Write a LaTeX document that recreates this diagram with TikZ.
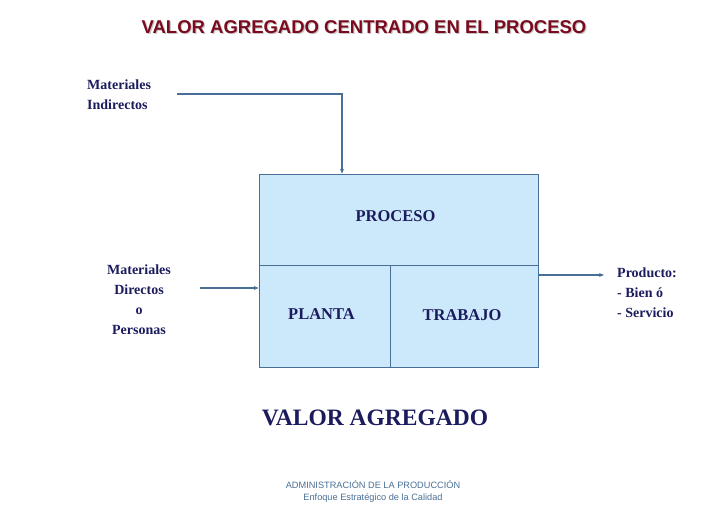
\documentclass[tikz,border=0pt]{standalone}
\usepackage{fontspec}
\setmainfont{Liberation Serif}
\setsansfont{Liberation Sans}
\usepackage{xcolor}
\usetikzlibrary{positioning, arrows.meta}
\definecolor{navy}{HTML}{1B1B5E}
\definecolor{linec}{HTML}{4A6F96}
\definecolor{boxfill}{HTML}{CCE9FB}
\definecolor{titlered}{HTML}{7A0A1E}

\begin{document}
\begin{tikzpicture}[
  x=1pt, y=-1pt,
  lbl/.style={font=\bfseries\fontsize{14}{20}\selectfont, text=navy, align=center, inner sep=0pt},
  inlbl/.style={font=\bfseries\fontsize{16.5}{20}\selectfont, text=navy, inner sep=0pt},
  part/.style={draw=linec, fill=boxfill, line width=0.7pt, inner sep=0pt},
  arr/.style={-{Stealth[length=5pt,width=4pt]}, draw=linec, line width=1.6pt}
]
\useasboundingbox (0,0) rectangle (728,504);

% Title
\node[font=\sffamily\bfseries\fontsize{18.5}{20}\selectfont, text=gray!45] at (365.2,28.2)
  {VALOR AGREGADO CENTRADO EN EL PROCESO};
\node[font=\sffamily\bfseries\fontsize{18.5}{20}\selectfont, text=titlered] (title) at (364,27)
  {VALOR AGREGADO CENTRADO EN EL PROCESO};

% Process box
\node[part, minimum width=279pt, minimum height=91pt] (proc) at (398.5,219.5) {};
\node[part, minimum width=131pt, minimum height=102pt] (planta) at (324.5,316) {};
\node[part, minimum width=148pt, minimum height=102pt] (trabajo) at (464,316) {};
\node[inlbl] at ([xshift=-3pt,yshift=3pt]proc.center) {PROCESO};
\node[inlbl] at ([xshift=-3pt,yshift=2pt]planta.center) {PLANTA};
\node[inlbl] at ([xshift=-2pt,yshift=1pt]trabajo.center) {TRABAJO};

% Inputs and output
\node[lbl, align=left, anchor=west] (indir) at (87,95) {Materiales\\Indirectos};
\node[lbl] (dir) at (139,300) {Materiales\\Directos\\o\\Personas};
\node[lbl, align=left, anchor=west] (prod) at (617,293) {Producto:\\- Bien ó\\- Servicio};

\coordinate (indirend) at (177,94);
\coordinate (dirend) at (200,288);
\coordinate (prodend) at (604,275);

% Arrows
\draw[arr] (indirend) -| ([xshift=-56.5pt]proc.north);
\draw[arr] (dirend) -- (dirend -| planta.west);
\draw[arr] (trabajo.east |- prodend) -- (prodend);

% Result
\node[font=\bfseries\fontsize{23.5}{26}\selectfont, text=navy] (valor) at (375,418) {VALOR AGREGADO};

% Footer
\node[font=\sffamily\fontsize{9.2}{12}\selectfont, text=linec, align=center] (foot) at (373,491)
  {ADMINISTRACIÓN DE LA PRODUCCIÓN\\Enfoque Estratégico de la Calidad};

\end{tikzpicture}
\end{document}
